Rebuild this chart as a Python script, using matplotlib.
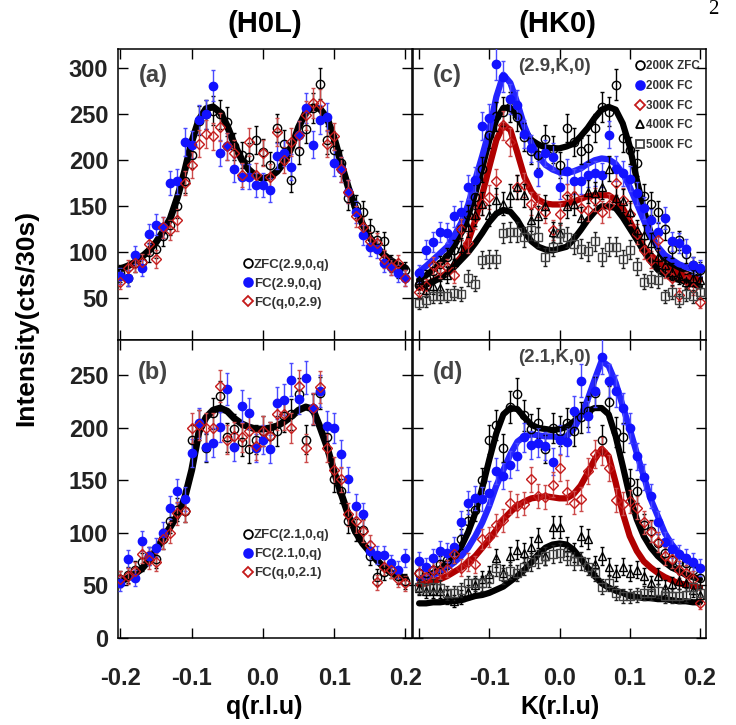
import numpy as np
import matplotlib
matplotlib.use('Agg')
import matplotlib.pyplot as plt
from matplotlib.lines import Line2D

plt.rcParams['font.family'] = ['Liberation Sans', 'DejaVu Sans']
plt.rcParams['font.weight'] = 'bold'

# momentum grid (r.l.u), same for every scan
q = np.round(np.linspace(-0.20, 0.20, 41), 2)

# (a) H0L scans around (2.9,0,q)
fit_a = [82, 85, 89, 95, 102, 111, 123, 137, 160, 188, 220, 244, 256, 258, 252, 237, 217, 201, 190, 183,
         180, 182, 188, 198, 214, 236, 252, 258, 256, 246, 224, 196, 170, 148, 130, 116, 105, 97, 91, 86, 83]
zfc_a = [77, 72, 88, 90, 100, 104, 118, 130, 150, 178, 206, 243, 250, 254, 250, 242, 215, 206, 204, 222,
         209, 195, 235, 218, 179, 210, 234, 257, 283, 222, 211, 197, 159, 150, 144, 125, 113, 112, 88, 81, 81]
fc_a = [74, 72, 97, 83, 120, 130, 127, 175, 177, 220, 217, 244, 250, 281, 208, 215, 190, 182, 182, 173,
        173, 168, 205, 208, 193, 228, 257, 217, 244, 247, 197, 190, 166, 144, 119, 106, 104, 88, 84, 77, 72]
fcq_a = [68, 83, 88, 89, 109, 93, 127, 124, 135, 175, 195, 218, 229, 226, 236, 215, 208, 184, 220, 184,
         208, 182, 231, 200, 220, 228, 249, 262, 261, 218, 226, 190, 166, 139, 128, 112, 110, 93, 84, 88, 72]

# (b) H0L scans around (2.1,0,q)
fit_b = [54, 57, 61, 66, 74, 84, 95, 106, 117, 133, 160, 196, 210, 217, 219, 216, 209, 204, 201, 199,
         199, 200, 202, 206, 211, 217, 220, 218, 201, 182, 158, 137, 117, 101, 90, 82, 74, 67, 62, 59, 57]
zfc_b = [56, 60, 65, 72, 78, 75, 94, 111, 122, 121, 189, 203, 181, 214, 230, 191, 199, 187, 180, 189,
         197, 192, 197, 211, 213, 232, 189, 218, 233, 191, 151, 140, 111, 103, 103, 78, 58, 63, 65, 59, 54]
fc_b = [52, 75, 57, 92, 78, 86, 100, 124, 140, 132, 176, 205, 182, 186, 201, 237, 182, 221, 214, 181,
        189, 180, 224, 227, 246, 228, 248, 219, 235, 202, 200, 175, 151, 126, 118, 83, 79, 79, 71, 65, 76]
fcq_b = [56, 59, 64, 80, 74, 72, 94, 100, 119, 121, 200, 203, 200, 200, 240, 189, 192, 191, 197, 183,
         197, 192, 213, 213, 200, 240, 181, 219, 239, 181, 160, 151, 118, 111, 102, 89, 53, 68, 65, 56, 52]

# (c) HK0 scans, (2.9,K,0)
fit200zfc_c = [70, 75, 81, 88, 95, 107, 121, 140, 164, 192, 222, 244, 257, 257, 247, 233, 222, 217, 214, 213,
               213, 215, 218, 226, 235, 246, 255, 258, 255, 240, 215, 179, 146, 121, 104, 93, 86, 81, 77, 74, 72]
fit200fc_c = [79, 85, 92, 99, 106, 118, 132, 152, 179, 205, 233, 269, 293, 284, 262, 237, 218, 204, 195, 190,
              187, 186, 188, 191, 196, 200, 202, 201, 196, 186, 171, 153, 135, 117, 106, 97, 92, 87, 84, 82, 80]
fit300_c = [61, 65, 69, 73, 77, 86, 95, 112, 135, 163, 193, 222, 238, 233, 208, 182, 166, 157, 153, 152,
            152, 153, 155, 158, 161, 162, 162, 162, 157, 148, 134, 119, 106, 97, 90, 84, 80, 76, 74, 71, 70]
fithot_c = [63, 65, 68, 72, 77, 84, 92, 100, 110, 121, 133, 142, 146, 144, 135, 122, 112, 106, 103, 102,
            104, 106, 114, 124, 135, 144, 150, 150, 148, 138, 126, 114, 101, 90, 81, 76, 72, 70, 68, 65, 63]
zfc200_c = [64, 72, 80, 87, 95, 103, 125, 140, 160, 190, 228, 248, 253, 258, 247, 225, 210, 206, 223, 212,
            195, 235, 220, 210, 213, 235, 258, 253, 282, 224, 211, 197, 161, 153, 144, 125, 104, 113, 98, 86, 81]
fc200_c = [77, 103, 111, 122, 121, 139, 144, 171, 179, 237, 246, 305, 291, 267, 260, 229, 213, 186, 208, 204,
           171, 188, 177, 177, 184, 186, 184, 228, 191, 186, 180, 164, 148, 135, 122, 137, 112, 110, 104, 86, 83]
fc300_c = [57, 63, 86, 81, 84, 75, 125, 110, 137, 153, 160, 177, 238, 220, 171, 173, 153, 151, 144, 124,
           142, 161, 161, 148, 146, 157, 144, 151, 175, 157, 142, 120, 103, 92, 113, 81, 72, 54, 70, 61, 46]
fc400_c = [70, 59, 63, 61, 75, 89, 105, 128, 140, 153, 140, 157, 153, 162, 171, 162, 135, 139, 150, 122,
           121, 150, 153, 137, 166, 164, 171, 191, 159, 156, 144, 124, 119, 110, 95, 86, 79, 74, 68, 72, 70]
fc500_c = [45, 48, 52, 52, 53, 56, 55, 72, 66, 92, 93, 93, 121, 122, 122, 117, 124, 117, 95, 106,
           121, 117, 109, 104, 101, 112, 95, 106, 106, 93, 103, 85, 68, 71, 70, 52, 57, 48, 55, 52, 57]

# (d) HK0 scans, (2.1,K,0)
fit200zfc_d = [56, 59, 62, 66, 72, 79, 87, 101, 119, 143, 170, 195, 213, 219, 218, 210, 203, 200, 199, 198,
               199, 201, 206, 212, 216, 219, 219, 213, 192, 164, 135, 113, 97, 86, 78, 72, 67, 64, 60, 58, 56]
fit200fc_d = [56, 58, 60, 63, 67, 72, 78, 86, 97, 110, 126, 145, 160, 175, 187, 192, 194, 193, 192, 192,
              191, 192, 199, 211, 227, 246, 264, 259, 243, 221, 199, 176, 154, 132, 116, 100, 89, 81, 75, 70, 67]
fit300_d = [51, 52, 54, 56, 59, 63, 67, 72, 78, 86, 94, 103, 113, 120, 126, 130, 133, 134, 135, 134,
            133, 133, 137, 145, 157, 170, 180, 173, 148, 119, 97, 83, 73, 67, 62, 58, 55, 52, 51, 49, 48]
fithot_d = [33, 33, 34, 34, 35, 35, 36, 38, 40, 41, 43, 46, 49, 54, 59, 65, 72, 80, 86, 89,
            90, 89, 84, 76, 67, 59, 52, 48, 45, 43, 40, 39, 38, 38, 37, 37, 36, 35, 35, 34, 34]
zfc200_d = [62, 62, 65, 70, 74, 80, 94, 111, 122, 150, 189, 203, 181, 220, 232, 212, 199, 205, 180, 200,
            197, 205, 197, 210, 216, 233, 189, 225, 196, 191, 149, 140, 108, 102, 90, 81, 74, 72, 71, 65, 57]
fc200_d = [73, 68, 76, 83, 81, 87, 110, 129, 133, 132, 138, 159, 154, 165, 173, 191, 184, 186, 183, 168,
           189, 187, 216, 245, 211, 235, 268, 245, 235, 219, 200, 173, 153, 135, 110, 91, 85, 80, 76, 72, 67]
fc300_d = [62, 58, 65, 64, 66, 80, 67, 72, 70, 94, 96, 108, 112, 129, 126, 128, 151, 135, 134, 146,
           162, 139, 129, 132, 159, 175, 178, 162, 131, 128, 130, 124, 110, 101, 91, 78, 75, 65, 62, 56, 33]
fc400_d = [48, 45, 45, 45, 39, 35, 39, 44, 50, 56, 61, 76, 62, 78, 84, 81, 87, 95, 78, 106,
           106, 87, 81, 97, 94, 70, 78, 68, 62, 68, 62, 65, 59, 52, 59, 48, 51, 54, 52, 46, 41]
fc500_d = [49, 48, 49, 48, 43, 43, 46, 52, 52, 52, 56, 67, 59, 64, 62, 68, 72, 75, 78, 80,
           81, 78, 73, 73, 68, 62, 49, 52, 43, 40, 40, 41, 43, 43, 45, 40, 40, 40, 41, 49, 43]

labels_a = ['ZFC(2.9,0,q)', 'FC(2.9,0,q)', 'FC(q,0,2.9)']
labels_b = ['ZFC(2.1,0,q)', 'FC(2.1,0,q)', 'FC(q,0,2.1)']
labels_hk = ['200K ZFC', '200K FC', '300K FC', '400K FC', '500K FC']

BLUE = '#1212ff'
BLUE_LINE = '#2424ff'
RED = '#c41a1a'
RED_LINE = '#b00000'
TXT = '#333333'

# marker styles: (marker, size, facecolor, edgecolor, errorbar colour)
sty_zfc = dict(marker='o', ms=6.0, mfc='none', mec='black', ecolor='black')
sty_fc = dict(marker='o', ms=6.0, mfc=BLUE, mec=BLUE, ecolor='#4a4aff')
sty_red = dict(marker='D', ms=4.8, mfc='none', mec=RED, ecolor='#cc4a4a')
sty_tri = dict(marker='^', ms=6.0, mfc='none', mec='black', ecolor='black')
sty_sq = dict(marker='s', ms=6.0, mfc='none', mec='#444444', ecolor='#222222')


def points(ax, y, sty):
    y = np.array(y, dtype=float)
    ax.errorbar(q, y, yerr=np.sqrt(y), fmt=sty['marker'], ms=sty['ms'], mfc=sty['mfc'],
                mec=sty['mec'], mew=1.0, ecolor=sty['ecolor'], elinewidth=1.0,
                capsize=1.6, capthick=1.0, zorder=3)


def curve(ax, y, color, lw):
    ax.plot(q, y, color=color, lw=lw, solid_capstyle='round', solid_joinstyle='round', zorder=2)


def legend(ax, labels, styles, x, y, spacing, size):
    handles = [Line2D([], [], ls='none', marker=s['marker'], ms=s['ms'] * 1.05, mfc=s['mfc'],
                      mec=s['mec'], mew=1.3) for s in styles]
    leg = ax.legend(handles, labels, loc='upper left', bbox_to_anchor=(x, y), frameon=False,
                    handlelength=0.5, handletextpad=0.25, labelspacing=spacing, borderpad=0,
                    borderaxespad=0, prop=dict(size=size, weight='bold'))
    for t in leg.get_texts():
        t.set_color(TXT)


fig = plt.figure(figsize=(7.36, 7.25), dpi=100)
W, H = 736.0, 725.0
ax_a = fig.add_axes([118 / W, 1 - 340 / H, 293.5 / W, 290.7 / H])
ax_c = fig.add_axes([412.5 / W, 1 - 340 / H, 293.5 / W, 290.7 / H])
ax_b = fig.add_axes([118 / W, 1 - 638 / H, 293.5 / W, 298 / H])
ax_d = fig.add_axes([412.5 / W, 1 - 638 / H, 293.5 / W, 298 / H])

# (a)
curve(ax_a, fit_a, 'black', 5)
points(ax_a, zfc_a, sty_zfc)
points(ax_a, fc_a, sty_fc)
points(ax_a, fcq_a, sty_red)
legend(ax_a, labels_a, [sty_zfc, sty_fc, sty_red], 0.43, 0.28, 0.5, 9.5)

# (b)
curve(ax_b, fit_b, 'black', 5)
points(ax_b, zfc_b, sty_zfc)
points(ax_b, fc_b, sty_fc)
points(ax_b, fcq_b, sty_red)
legend(ax_b, labels_b, [sty_zfc, sty_fc, sty_red], 0.43, 0.365, 0.5, 9.5)

# (c)
curve(ax_c, fit200zfc_c, 'black', 4.5)
curve(ax_c, fit200fc_c, BLUE_LINE, 4.5)
curve(ax_c, fit300_c, RED_LINE, 4.5)
curve(ax_c, fithot_c, 'black', 4.5)
points(ax_c, zfc200_c, sty_zfc)
points(ax_c, fc200_c, sty_fc)
points(ax_c, fc300_c, sty_red)
points(ax_c, fc400_c, sty_tri)
points(ax_c, fc500_c, sty_sq)
legend(ax_c, labels_hk, [sty_zfc, sty_fc, sty_red, sty_tri, sty_sq], 0.765, 0.962, 0.66, 8.4)

# (d)
curve(ax_d, fit200zfc_d, 'black', 4.5)
curve(ax_d, fit200fc_d, BLUE_LINE, 4.5)
curve(ax_d, fit300_d, RED_LINE, 4.5)
curve(ax_d, fithot_d, 'black', 4.5)
points(ax_d, zfc200_d, sty_zfc)
points(ax_d, fc200_d, sty_fc)
points(ax_d, fc300_d, sty_red)
points(ax_d, fc400_d, sty_tri)
points(ax_d, fc500_d, sty_sq)

xt = [-0.2, -0.1, 0.0, 0.1, 0.2]
for ax in (ax_a, ax_c, ax_b, ax_d):
    ax.set_xticks(xt)
    ax.tick_params(direction='in', length=7, width=1, top=True, right=True,
                   labelsize=17, colors='black', labelcolor='#222222')
    ax.tick_params(axis='x', pad=21)
    ax.tick_params(axis='y', pad=7)
    for sp in ax.spines.values():
        sp.set_linewidth(1.1)

for ax in (ax_a, ax_b):
    ax.set_xlim(-0.2035, 0.2085)
for ax in (ax_c, ax_d):
    ax.set_xlim(-0.2094, 0.2086)
for ax in (ax_a, ax_c):
    ax.set_ylim(4.7, 320.6)
    ax.set_yticks([50, 100, 150, 200, 250, 300])
    ax.set_xticklabels([])
for ax in (ax_b, ax_d):
    ax.set_ylim(0, 283.8)
    ax.set_yticks([0, 50, 100, 150, 200, 250])
ax_b.set_xticklabels(['-0.2', '-0.1', '0.0', '0.1', '0.2'])
ax_d.set_xticklabels(['', '-0.1', '0.0', '0.1', '0.2'])
ax_c.set_yticklabels([])
ax_d.set_yticklabels([])

for ax, lab in ((ax_a, '(a)'), (ax_b, '(b)'), (ax_c, '(c)'), (ax_d, '(d)')):
    ax.text(0.12, 0.91 if ax in (ax_a, ax_c) else 0.89, lab, transform=ax.transAxes,
            ha='center', va='center', fontsize=17, fontweight='bold', color='#444444')
ax_c.text(0.485, 0.94, '(2.9,K,0)', transform=ax_c.transAxes, ha='center', va='center',
          fontsize=13.5, fontweight='bold', color='#444444')
ax_d.text(0.485, 0.94, '(2.1,K,0)', transform=ax_d.transAxes, ha='center', va='center',
          fontsize=13.5, fontweight='bold', color='#444444')

fig.text(265 / W, 1 - 24 / H, '(H0L)', ha='center', va='center', fontsize=21, fontweight='bold')
fig.text(557 / W, 1 - 24 / H, '(HK0)', ha='center', va='center', fontsize=21, fontweight='bold')
fig.text(264 / W, 1 - 707 / H, 'q(r.l.u)', ha='center', va='center', fontsize=18, fontweight='bold')
fig.text(560 / W, 1 - 707 / H, 'K(r.l.u)', ha='center', va='center', fontsize=18, fontweight='bold')
fig.text(26 / W, 1 - 318 / H, 'Intensity(cts/30s)', ha='center', va='center', rotation=90,
         fontsize=19, fontweight='bold')
fig.text(713 / W, 1 - 10 / H, '2', ha='center', va='center', fontsize=15,
         family=['Liberation Serif', 'DejaVu Serif'], fontweight='normal')

fig.savefig('out.png', dpi=100)
